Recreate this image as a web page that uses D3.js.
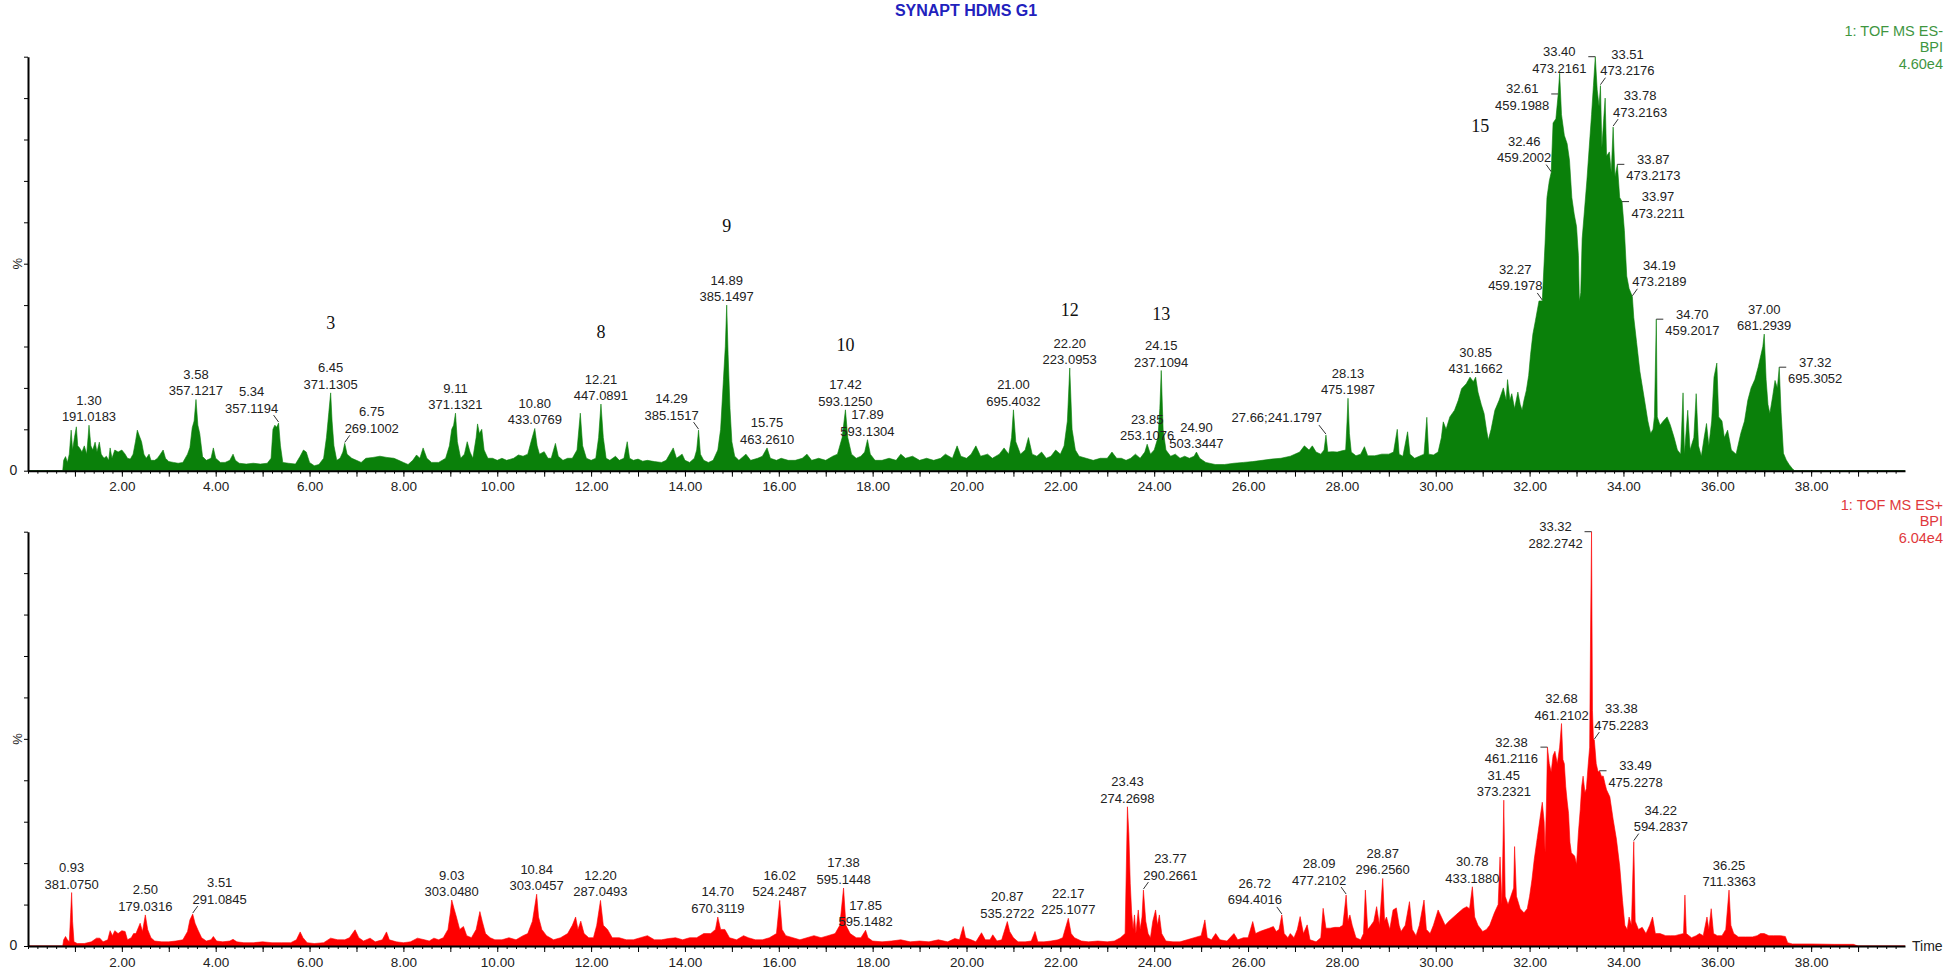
<!DOCTYPE html>
<html>
<head>
<meta charset="utf-8">
<script src="https://cdn.jsdelivr.net/npm/d3@7"></script>
<style>
  body { margin: 0; background: #fff; }
  text { font-family: "Liberation Sans", Arial, sans-serif; }
</style>
</head>
<body>
<div id="chart"></div>
<script>
// ---- data: retention time (min), intensity (% of base peak) ----
const esNeg = [[0.00,0],[0.74,0],[0.76,2.5],[0.80,3.4],[0.84,2],[0.88,4],[0.92,9.8],[0.95,5],[0.99,8],[1.03,10.6],[1.06,6],[1.10,5.5],[1.15,4.5],[1.20,6],[1.25,4],[1.28,8],[1.30,11],[1.34,6],[1.38,5],[1.43,6.9],[1.47,4.5],[1.52,6.9],[1.56,4],[1.62,3],[1.67,3.5],[1.72,2.5],[1.75,5.5],[1.79,3],[1.85,5],[1.92,4.5],[2.00,5],[2.07,4],[2.12,3],[2.18,2.8],[2.24,4],[2.29,7],[2.33,9.8],[2.37,8.5],[2.42,7],[2.47,4],[2.52,3],[2.58,4],[2.62,2.5],[2.70,2.5],[2.76,3],[2.82,4],[2.88,5],[2.93,3],[3.00,2.2],[3.10,2],[3.20,1.8],[3.30,2],[3.40,4],[3.45,5.6],[3.50,10.4],[3.54,12],[3.58,17.2],[3.62,11],[3.66,9],[3.72,3.4],[3.80,2.5],[3.90,3],[3.95,5.5],[4.00,3],[4.10,2],[4.20,2],[4.30,2.5],[4.37,4],[4.42,2.5],[4.50,1.8],[4.65,1.6],[4.80,1.8],[4.95,1.6],[5.10,1.8],[5.18,3],[5.22,10],[5.26,11],[5.30,10.5],[5.34,11.5],[5.38,6],[5.43,2],[5.55,1.8],[5.70,1.6],[5.80,3.5],[5.87,5],[5.93,4.5],[6.00,2],[6.10,1.2],[6.20,1.5],[6.30,3],[6.36,8],[6.41,14],[6.45,18.8],[6.48,12],[6.52,6],[6.58,2.5],[6.65,3],[6.71,4.5],[6.75,6.6],[6.80,4],[6.90,3],[7.00,2.5],[7.10,2],[7.20,3],[7.35,3.2],[7.50,3.5],[7.65,3.2],[7.80,3],[7.90,2.5],[8.00,2],[8.10,1.5],[8.20,2.5],[8.28,3.8],[8.35,3],[8.42,5.5],[8.50,3],[8.60,2],[8.75,2],[8.90,3],[8.98,6],[9.03,10],[9.07,11],[9.11,13.9],[9.15,7],[9.22,3],[9.30,4],[9.36,7],[9.42,4.5],[9.48,3],[9.55,8],[9.58,11.3],[9.62,9],[9.67,10],[9.72,5],[9.80,3],[9.90,3],[10.00,2.5],[10.10,3],[10.20,2.5],[10.35,3],[10.45,3.8],[10.55,3.5],[10.65,4],[10.72,7],[10.80,10.2],[10.85,6],[10.90,4],[11.00,4.6],[11.08,3],[11.15,3],[11.24,6.6],[11.30,3.5],[11.40,2.5],[11.50,3],[11.60,3],[11.70,5],[11.77,13.9],[11.82,6],[11.90,3],[12.00,2.5],[12.10,3],[12.16,8],[12.21,16.1],[12.26,8],[12.32,3],[12.40,2.5],[12.52,3.5],[12.60,2.5],[12.70,3],[12.77,7],[12.82,3],[12.90,2.5],[13.00,2.8],[13.10,2.3],[13.20,2.5],[13.35,2.2],[13.50,2],[13.60,2.5],[13.75,5.5],[13.82,3],[13.94,4],[14.00,2.5],[14.10,2],[14.20,3],[14.25,5],[14.29,9.8],[14.33,4],[14.40,2.5],[14.50,2],[14.60,2.5],[14.70,5],[14.76,10],[14.82,22],[14.86,30],[14.89,40],[14.92,28],[14.96,15],[15.00,7],[15.06,3.5],[15.15,2.5],[15.30,4],[15.40,2.5],[15.55,3],[15.65,3.5],[15.75,5.5],[15.82,3],[15.95,2.5],[16.05,3],[16.20,2.5],[16.35,2.5],[16.50,3],[16.60,4],[16.70,2.5],[16.85,3],[17.00,2.5],[17.15,3.5],[17.25,4],[17.35,8],[17.42,14.7],[17.47,8],[17.55,4],[17.65,3],[17.75,3.5],[17.83,4.5],[17.89,7.5],[17.95,4],[18.05,2.5],[18.20,2.5],[18.35,3],[18.50,2.5],[18.60,4],[18.70,3],[18.85,3.5],[19.00,2.5],[19.15,3],[19.30,2.5],[19.45,3],[19.55,4],[19.70,3],[19.80,6],[19.88,3.5],[20.00,3],[20.10,4],[20.20,6],[20.30,3.5],[20.45,4],[20.55,3],[20.70,4],[20.80,5.5],[20.90,4],[20.96,8],[21.00,14.7],[21.05,7],[21.15,4],[21.25,5],[21.32,8],[21.40,4],[21.50,3.5],[21.60,4.5],[21.70,3],[21.80,3.5],[21.90,5],[22.00,4],[22.08,6],[22.15,12],[22.20,24.8],[22.25,10],[22.32,5],[22.40,3.5],[22.55,3],[22.70,2.5],[22.85,3],[23.00,3],[23.10,4.5],[23.20,3],[23.30,3],[23.40,2.5],[23.50,3],[23.60,4],[23.70,3],[23.80,4.5],[23.85,6.4],[23.92,4],[24.00,5],[24.08,8],[24.12,15],[24.15,24.2],[24.19,10],[24.25,5],[24.35,3.5],[24.45,4],[24.55,3],[24.65,3.5],[24.75,3],[24.85,3.5],[24.90,4.5],[24.97,3],[25.10,2],[25.30,1.5],[25.50,1.5],[25.70,1.8],[25.90,2],[26.10,2.2],[26.30,2.5],[26.50,2.8],[26.70,3],[26.90,3.5],[27.10,4.5],[27.20,6],[27.30,5],[27.37,6],[27.45,4.5],[27.55,4],[27.62,5],[27.66,8.6],[27.70,4.5],[27.80,4.6],[27.90,4.5],[28.00,4.8],[28.08,5],[28.11,12],[28.13,17.5],[28.16,9],[28.20,4.5],[28.30,3.6],[28.40,4],[28.48,5.8],[28.55,3.6],[28.70,3.6],[28.85,4],[29.00,4],[29.10,4.5],[29.18,10],[29.22,4],[29.30,3.5],[29.40,9.4],[29.45,4],[29.55,3],[29.65,3.5],[29.75,4],[29.81,12.9],[29.85,4],[29.95,3.8],[30.05,4.5],[30.12,8],[30.16,11.8],[30.22,10],[30.30,13],[30.40,14.6],[30.48,17],[30.55,19.8],[30.65,21],[30.73,22.6],[30.80,21.5],[30.85,22.6],[30.90,19],[30.97,16],[31.03,13.8],[31.08,10],[31.12,7.4],[31.18,10],[31.26,14.6],[31.35,17],[31.44,20],[31.50,17],[31.53,22],[31.58,17],[31.62,18.6],[31.68,15],[31.75,19],[31.80,16],[31.84,14.6],[31.88,17],[31.93,19.4],[31.98,23],[32.02,28],[32.07,33],[32.12,36],[32.20,41],[32.27,41],[32.33,55],[32.37,66],[32.42,70],[32.46,72],[32.50,84],[32.56,85],[32.61,91],[32.64,96],[32.68,86],[32.74,81],[32.80,79],[32.85,75],[32.90,66],[32.95,62],[33.00,59],[33.04,52],[33.06,41],[33.09,43],[33.12,56],[33.17,63],[33.22,70],[33.27,78],[33.32,86],[33.36,93],[33.40,100],[33.44,92],[33.48,88],[33.51,93],[33.54,78],[33.58,85],[33.61,90],[33.64,76],[33.70,77],[33.74,72],[33.78,83],[33.82,71],[33.87,74],[33.92,66],[33.97,65],[34.02,58],[34.07,47],[34.12,44],[34.19,42],[34.22,37],[34.28,31],[34.35,24],[34.45,17],[34.52,12],[34.58,9],[34.63,10],[34.66,13],[34.70,36.6],[34.72,13],[34.78,11],[34.85,12],[34.93,13],[35.00,11],[35.08,8],[35.15,5],[35.22,4],[35.27,18.8],[35.30,4],[35.37,14.6],[35.42,5],[35.50,8],[35.55,18.6],[35.60,6],[35.66,3.5],[35.72,8],[35.77,11.4],[35.82,6],[35.88,12],[35.93,22.6],[35.99,26],[36.03,13],[36.10,12],[36.15,8],[36.22,9.8],[36.30,5],[36.40,4],[36.50,9],[36.58,12],[36.65,17],[36.72,20],[36.80,22],[36.87,25],[36.93,28],[36.97,30],[37.00,33],[37.04,22],[37.08,16],[37.12,13.8],[37.18,18],[37.23,21.8],[37.28,20],[37.32,25],[37.36,14],[37.41,4.2],[37.47,2.6],[37.53,1.5],[37.60,0.5],[37.65,0],[40.00,0]];

const esPos = [[0.00,0],[0.74,0],[0.76,1.5],[0.80,2.3],[0.84,1.5],[0.88,1],[0.91,8],[0.93,12.9],[0.95,6],[0.98,1],[1.05,0.6],[1.20,0.6],[1.35,1],[1.46,1.9],[1.53,1.9],[1.60,1],[1.70,1.5],[1.75,3.7],[1.80,2.5],[1.85,3.7],[1.92,3],[2.00,3.7],[2.07,3.5],[2.12,1.5],[2.20,2],[2.25,3],[2.30,3],[2.39,5.5],[2.44,3.5],[2.50,7.5],[2.55,4],[2.62,2],[2.70,1.2],[2.85,1],[3.00,1],[3.15,1.2],[3.30,1.5],[3.40,3.5],[3.45,6.3],[3.51,7.7],[3.56,5.5],[3.62,3.9],[3.70,2],[3.80,1.2],[3.90,1.5],[3.95,2.3],[4.02,1.2],[4.15,1],[4.30,1.2],[4.37,1.6],[4.45,1],[4.60,0.8],[4.80,0.8],[5.00,1],[5.20,0.8],[5.40,0.8],[5.60,0.8],[5.72,1.5],[5.80,3.4],[5.86,2],[5.95,0.8],[6.10,0.6],[6.30,0.8],[6.45,1.9],[6.60,1.5],[6.75,1.5],[6.85,2],[6.97,3.9],[7.05,2],[7.15,1.2],[7.29,1.9],[7.40,1],[7.55,1.5],[7.64,3.4],[7.70,1.5],[7.85,1],[8.00,0.8],[8.15,1],[8.30,1.9],[8.45,1.5],[8.55,1.2],[8.65,1.9],[8.75,1.5],[8.85,2],[8.95,4],[9.00,8],[9.03,11.1],[9.08,9],[9.13,7],[9.20,4],[9.28,4.7],[9.35,2.5],[9.45,2],[9.55,4],[9.63,8.3],[9.68,6],[9.75,3],[9.85,2],[9.95,1.5],[10.10,1.5],[10.25,2],[10.40,1.5],[10.55,2.5],[10.65,3],[10.75,6],[10.84,12.5],[10.88,7],[10.95,4],[11.05,2.5],[11.20,1.5],[11.35,2],[11.50,3],[11.60,5],[11.67,7],[11.72,4],[11.78,6],[11.85,3],[11.95,2],[12.05,2],[12.12,5],[12.20,11],[12.26,5],[12.35,4],[12.45,2],[12.60,2],[12.75,1.5],[12.90,1.5],[13.05,2],[13.20,2.5],[13.35,1.5],[13.50,1.5],[13.65,1.8],[13.80,2],[13.95,1.5],[14.10,2],[14.25,2],[14.40,3],[14.55,3],[14.65,4],[14.70,7],[14.76,4],[14.85,4],[14.95,2],[15.10,1.5],[15.25,2.5],[15.35,2],[15.50,1.5],[15.65,1.5],[15.80,2],[15.95,3],[16.02,11],[16.07,4],[16.15,2.5],[16.30,2],[16.45,1.5],[16.60,2],[16.75,2.5],[16.90,2],[17.05,2.5],[17.20,3],[17.30,5],[17.38,14],[17.43,5],[17.52,3],[17.65,2],[17.75,2],[17.85,3.8],[17.90,2],[18.00,1.2],[18.20,1],[18.40,1.2],[18.60,1.5],[18.80,1],[19.00,1.2],[19.20,1],[19.40,1.5],[19.60,1],[19.75,1.8],[19.85,1.5],[19.93,4.7],[19.98,2],[20.10,1.5],[20.20,1],[20.32,3.2],[20.40,1.5],[20.50,1.5],[20.56,2.7],[20.65,1.2],[20.75,1.5],[20.87,5.9],[20.92,3.5],[21.00,2],[21.10,1],[21.25,1],[21.38,1.2],[21.46,3.5],[21.52,1],[21.65,1],[21.80,1.2],[21.95,1.5],[22.05,2],[22.17,6.7],[22.23,3],[22.30,2],[22.45,1.2],[22.60,1],[22.80,1.2],[23.00,1],[23.15,1.2],[23.28,2],[23.38,3],[23.43,33.6],[23.46,27],[23.49,15],[23.52,8],[23.55,4],[23.58,7.5],[23.61,3],[23.66,8.7],[23.70,4],[23.74,7],[23.77,13.5],[23.82,6],[23.87,3],[23.92,2],[23.97,6],[24.03,8.7],[24.07,5],[24.11,7.5],[24.16,3],[24.25,1.2],[24.40,1],[24.55,1],[24.70,1.5],[24.85,2],[25.00,2.5],[25.08,6.3],[25.13,2],[25.22,1.5],[25.31,3],[25.40,1.5],[25.55,1.2],[25.70,3],[25.78,1.5],[25.90,2],[26.00,2],[26.10,5.9],[26.16,3],[26.25,3.5],[26.35,3.9],[26.45,4.3],[26.54,4.7],[26.60,3.5],[26.66,4],[26.72,7.5],[26.77,3],[26.85,2],[26.90,3],[26.98,2],[27.05,4],[27.11,7.1],[27.18,3],[27.26,5.1],[27.32,1.5],[27.45,1],[27.55,2],[27.60,9.1],[27.66,4.3],[27.75,4.3],[27.85,4.5],[27.95,4.5],[28.02,5],[28.09,12.3],[28.13,6],[28.17,7.5],[28.22,5],[28.30,2],[28.40,1.5],[28.46,3],[28.50,13.5],[28.55,4],[28.62,5],[28.68,6],[28.74,9.5],[28.80,5],[28.87,16.3],[28.91,6],[28.95,7],[29.02,4],[29.09,8.7],[29.16,9.2],[29.22,5],[29.26,3.5],[29.35,5],[29.44,10.7],[29.50,4],[29.58,2.5],[29.65,5],[29.75,11.1],[29.80,4],[29.88,3],[29.95,5],[30.05,8.7],[30.12,7],[30.20,5],[30.28,6],[30.38,7],[30.48,8],[30.58,9],[30.66,9.5],[30.72,9],[30.78,14.3],[30.83,7],[30.90,5],[31.00,3.5],[31.08,4],[31.15,5],[31.25,8],[31.33,10],[31.37,21.5],[31.41,10],[31.45,35.2],[31.48,12],[31.54,10],[31.60,12],[31.66,14],[31.68,24],[31.72,12],[31.80,9],[31.88,8],[31.95,9],[32.00,12],[32.05,16],[32.10,21],[32.15,25],[32.20,29],[32.27,34.7],[32.31,30],[32.33,22.5],[32.36,35],[32.38,48],[32.42,44],[32.46,42],[32.50,46],[32.54,47],[32.59,44],[32.64,48],[32.68,53.7],[32.71,45],[32.74,44],[32.77,38.5],[32.80,35],[32.83,32],[32.86,25],[32.89,22.5],[32.96,21.7],[33.00,19.7],[33.04,27.3],[33.08,33],[33.11,38.5],[33.14,41],[33.18,37],[33.21,38],[33.25,44],[33.28,48],[33.30,77],[33.32,100],[33.34,56.8],[33.36,50],[33.38,49.7],[33.42,44],[33.46,42],[33.49,42.3],[33.53,41],[33.57,41],[33.61,39],[33.64,37.7],[33.71,36],[33.78,30.6],[33.85,25.8],[33.92,19.3],[33.98,11],[34.03,5],[34.08,4],[34.12,7],[34.17,5],[34.22,25.2],[34.25,6],[34.32,4],[34.40,4.5],[34.48,3],[34.56,5],[34.62,7],[34.68,3],[34.78,3],[34.90,2.5],[35.00,2.5],[35.10,2.5],[35.20,2.8],[35.28,3],[35.31,12.3],[35.34,3],[35.45,2],[35.55,2.5],[35.62,3],[35.70,2.5],[35.78,7],[35.82,4],[35.87,9],[35.92,3],[36.00,2.5],[36.10,2.5],[36.18,4],[36.25,13.5],[36.29,5],[36.35,3],[36.45,2.2],[36.60,2.2],[36.75,2.2],[36.85,2.5],[36.92,3],[37.00,3],[37.10,2.5],[37.20,2.5],[37.35,2.5],[37.45,2.3],[37.50,0.8],[37.60,0.5],[38.00,0.5],[38.50,0.4],[38.90,0.4],[39.00,0],[40.00,0]];

// labelled peaks: [retention time, base peak m/z]
const negPeaks = [[1.30,"191.0183"],[3.58,"357.1217"],[5.34,"357.1194"],[6.45,"371.1305"],[6.75,"269.1002"],[9.11,"371.1321"],[10.80,"433.0769"],[12.21,"447.0891"],[14.29,"385.1517"],[14.89,"385.1497"],[15.75,"463.2610"],[17.42,"593.1250"],[17.89,"593.1304"],[21.00,"695.4032"],[22.20,"223.0953"],[23.85,"253.1076"],[24.15,"237.1094"],[24.90,"503.3447"],[27.66,"241.1797"],[28.13,"475.1987"],[30.85,"431.1662"],[32.27,"459.1978"],[32.46,"459.2002"],[32.61,"459.1988"],[33.40,"473.2161"],[33.51,"473.2176"],[33.78,"473.2163"],[33.87,"473.2173"],[33.97,"473.2211"],[34.19,"473.2189"],[34.70,"459.2017"],[37.00,"681.2939"],[37.32,"695.3052"]];
const posPeaks = [[0.93,"381.0750"],[2.50,"179.0316"],[3.51,"291.0845"],[9.03,"303.0480"],[10.84,"303.0457"],[12.20,"287.0493"],[14.70,"670.3119"],[16.02,"524.2487"],[17.38,"595.1448"],[17.85,"595.1482"],[20.87,"535.2722"],[22.17,"225.1077"],[23.43,"274.2698"],[23.77,"290.2661"],[26.72,"694.4016"],[28.09,"477.2102"],[28.87,"296.2560"],[30.78,"433.1880"],[31.45,"373.2321"],[32.38,"461.2116"],[32.68,"461.2102"],[33.32,"282.2742"],[33.38,"475.2283"],[33.49,"475.2278"],[34.22,"594.2837"],[36.25,"711.3363"]];

// compound numbers written on the negative-mode trace
const compoundIds = ["3", "8", "9", "10", "12", "13", "15"];

const negHeader = ["1: TOF MS ES-", "BPI", "4.60e4"];
const posHeader = ["1: TOF MS ES+", "BPI", "6.04e4"];
const chartTitle = "SYNAPT HDMS G1";

// ---- layout (kept apart from the data) ----
const width = 1950, height = 969;
const negPlace = {"5.34":"diagL","6.75":"diagR","14.29":"diagL","27.66":"single","32.27":"diagL","32.46":"diagL","32.61":"bracketL","33.40":"bracketL","33.51":"diagR","33.78":"diagR","33.87":"bracketR","33.97":"bracketR","34.19":"diagR","34.70":"bracketR","37.32":"bracketR"};
const posPlace = {"3.51":"diagR","23.77":"diagR","26.72":"diagL","28.09":"diagL","32.38":"bracketL","33.32":"bracketL","33.38":"diagR","33.49":"bracketR","34.22":"diagR"};
// [time, % height] where each compound number sits
const compoundAt = [[6.45,35.7],[12.21,33.5],[14.89,59],[17.42,30.4],[22.20,38.8],[24.15,37.8],[30.95,83.2]];

const svg = d3.select("#chart").append("svg")
    .attr("width", width)
    .attr("height", height);

const x = d3.scaleLinear().domain([0, 40]).range([28, 1905]);

svg.append("text")
    .attr("x", 966)
    .attr("y", 16)
    .attr("text-anchor", "middle")
    .style("font-size", "16px")
    .style("font-weight", "bold")
    .style("fill", "#2121bd")
    .text(chartTitle);

function drawPanel(series, peaks, place, top, bottom, fill, header, headerColor, headerY, showTime) {
    const y = d3.scaleLinear().domain([0, 100]).range([bottom, top]);
    const g = svg.append("g");

    // trace
    g.append("path")
        .datum(series)
        .attr("d", d3.area()
            .x(d => x(d[0]))
            .y0(y(0))
            .y1(d => y(d[1])))
        .attr("fill", fill)
        .attr("stroke", fill)
        .attr("stroke-width", 0.6);

    // minor x ticks
    g.append("g")
        .attr("transform", "translate(0," + bottom + ")")
        .call(d3.axisBottom(x)
            .tickValues(d3.range(0, 200).map(i => i * 0.2))
            .tickSize(3)
            .tickSizeOuter(0)
            .tickFormat(""))
        .call(a => a.select(".domain").remove())
        .selectAll("line").attr("stroke", "#000");

    // major x ticks + labels
    const xa = g.append("g")
        .attr("transform", "translate(0," + bottom + ")")
        .call(d3.axisBottom(x)
            .tickValues(d3.range(1, 40))
            .tickSize(6)
            .tickSizeOuter(0)
            .tickPadding(5)
            .tickFormat(d => (d % 2 === 0 && d <= 38) ? d.toFixed(2) : ""));
    xa.select(".domain").attr("stroke", "#000").attr("stroke-width", 2);
    xa.selectAll("text").style("font-size", "13.5px").style("fill", "#222")
        .style("font-family", "'Liberation Sans', Arial, sans-serif");

    // y axis
    const ya = g.append("g")
        .attr("transform", "translate(" + x(0) + ",0)")
        .call(d3.axisLeft(y)
            .tickValues(d3.range(0, 101, 10))
            .tickSize(4)
            .tickSizeOuter(0)
            .tickFormat(""));
    ya.select(".domain").attr("stroke", "#000").attr("stroke-width", 2);

    g.append("text")
        .attr("x", 13.5)
        .attr("y", bottom + 4)
        .attr("text-anchor", "middle")
        .style("font-size", "14px")
        .style("fill", "#222")
        .text("0");

    g.append("text")
        .attr("transform", "translate(17," + y(50) + ") rotate(-90)")
        .attr("text-anchor", "middle")
        .attr("dominant-baseline", "central")
        .style("font-size", "13px")
        .style("fill", "#222")
        .text("%");

    // header, top right
    g.selectAll(".hdr")
        .data(header)
        .join("text")
        .attr("x", 1943)
        .attr("y", (d, i) => headerY + i * 16.4)
        .attr("text-anchor", "end")
        .style("font-size", "14.5px")
        .style("fill", headerColor)
        .text(d => d);

    if (showTime) {
        g.append("text")
            .attr("x", 1912)
            .attr("y", bottom + 5)
            .style("font-size", "14px")
            .style("fill", "#222")
            .text("Time");
    }

    // peak labels
    const heightAt = function (t) {
        let best = series[0];
        series.forEach(function (d) {
            if (Math.abs(d[0] - t) < Math.abs(best[0] - t)) best = d;
        });
        return best[1];
    };

    const lab = g.append("g").style("font-size", "13px").style("fill", "#222");
    peaks.forEach(function (p) {
        const px = x(p[0]);
        const py = y(heightAt(p[0]));
        const mode = place[p[0].toFixed(2)] || "up";
        let cx = px, b1 = py - 20.5, b2 = py - 4, leader = null;
        if (mode === "diagL" || mode === "diagR") {
            const s = mode === "diagL" ? -1 : 1;
            cx = px + s * 27;
            b2 = py - 10.5;
            b1 = b2 - 16.5;
            leader = [[px + s * 5, py - 8], [px, py - 1]];
        } else if (mode === "bracketL" || mode === "bracketR") {
            const s = mode === "bracketL" ? -1 : 1;
            cx = px + s * 36;
            b1 = py - 0.5;
            b2 = py + 16;
            leader = [[px + s * 7, py], [px, py]];
        }
        if (mode === "single") {
            lab.append("text")
                .attr("x", px - 4)
                .attr("y", py - 13)
                .attr("text-anchor", "end")
                .text(p[0].toFixed(2) + ";" + p[1]);
            leader = [[px - 7, py - 10], [px, py - 1]];
        } else {
            lab.append("text").attr("x", cx).attr("y", b1)
                .attr("text-anchor", "middle").text(p[0].toFixed(2));
            lab.append("text").attr("x", cx).attr("y", b2)
                .attr("text-anchor", "middle").text(p[1]);
        }
        if (leader) {
            g.append("line")
                .attr("x1", leader[0][0]).attr("y1", leader[0][1])
                .attr("x2", leader[1][0]).attr("y2", leader[1][1])
                .attr("stroke", "#333")
                .attr("stroke-width", 1);
        }
    });

    return y;
}

const yNeg = drawPanel(esNeg, negPeaks, negPlace, 56.7, 470.7, "#0a800a",
    negHeader, "#3f963f", 35.7, false);
drawPanel(esPos, posPeaks, posPlace, 531.7, 946, "#ff0000",
    posHeader, "#e0393c", 510, true);

// compound numbers on the top trace
svg.append("g")
    .selectAll("text")
    .data(compoundIds)
    .join("text")
    .attr("x", (d, i) => x(compoundAt[i][0]))
    .attr("y", (d, i) => yNeg(compoundAt[i][1]))
    .attr("text-anchor", "middle")
    .attr("dominant-baseline", "central")
    .style("font-family", "'Liberation Serif', 'Times New Roman', serif")
    .style("font-size", "18px")
    .style("fill", "#111")
    .text(d => d);
</script>
</body>
</html>
